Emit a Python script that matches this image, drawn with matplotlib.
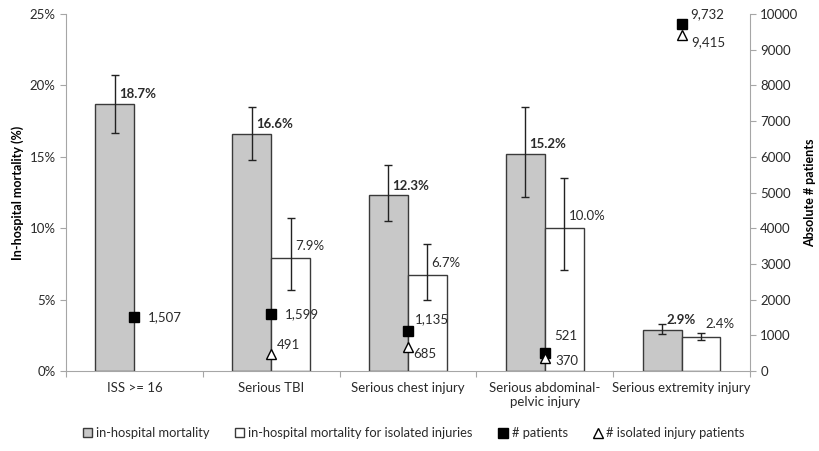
import matplotlib.pyplot as plt
import numpy as np

plt.rcParams['font.family'] = ['Lato', 'DejaVu Sans']
plt.rcParams['font.size'] = 9.5
plt.rcParams['text.color'] = '#2a2a2a'
plt.rcParams['xtick.color'] = '#2a2a2a'
plt.rcParams['ytick.color'] = '#2a2a2a'

categories = ['ISS >= 16', 'Serious TBI', 'Serious chest injury',
              'Serious abdominal-\npelvic injury', 'Serious extremity injury']
mortality = [18.7, 16.6, 12.3, 15.2, 2.9]
mort_lo = [2.0, 1.8, 1.8, 3.0, 0.3]
mort_hi = [2.0, 1.9, 2.1, 3.3, 0.4]
iso_mortality = [np.nan, 7.9, 6.7, 10.0, 2.4]
iso_lo = [0, 2.2, 1.7, 2.9, 0.25]
iso_hi = [0, 2.8, 2.2, 3.5, 0.3]
patients = [1507, 1599, 1135, 521, 9732]
iso_patients = [np.nan, 491, 685, 370, 9415]

# label offsets in points (x, y) for the count markers
pat_off = [(10, 0), (10, 0), (5, 8), (7, 12), (6, 7)]
iso_off = [(0, 0), (4, 6), (4, -5), (8, -2), (7, -5)]

edge = '#3a3a3a'
axis_col = '#a6a6a6'

fig = plt.figure(figsize=(8.2, 4.51), dpi=100)
ax = fig.add_axes([0.0805, 0.177, 0.834, 0.792])
x = np.arange(len(categories))
w = 0.285

ax.bar(x - w / 2, mortality, w, color='#c8c8c8', edgecolor=edge, linewidth=1,
       yerr=[mort_lo, mort_hi], error_kw=dict(ecolor='#222222', elinewidth=1, capsize=3, capthick=1),
       label='in-hospital mortality')
iso_mask = ~np.isnan(iso_mortality)
ax.bar(x[iso_mask] + w / 2, np.array(iso_mortality)[iso_mask], w, color='white',
       edgecolor=edge, linewidth=1,
       yerr=[np.array(iso_lo)[iso_mask], np.array(iso_hi)[iso_mask]],
       error_kw=dict(ecolor='#222222', elinewidth=1, capsize=3, capthick=1),
       label='in-hospital mortality for isolated injuries')

for i, v in enumerate(mortality):
    ax.annotate(f'{v:.1f}%', (x[i] - w / 2, v), xytext=(3, 7), textcoords='offset points',
                ha='left', va='center', fontweight='bold')
for i, v in enumerate(iso_mortality):
    if not np.isnan(v):
        ax.annotate(f'{v:.1f}%', (x[i] + w / 2, v), xytext=(3, 9), textcoords='offset points',
                    ha='left', va='center')

ax.set_xlim(-0.5, len(categories) - 0.5)
ax.set_ylim(0, 25)
ax.set_yticks(np.arange(0, 26, 5))
ax.set_yticklabels([f'{t}%' for t in range(0, 26, 5)])
ax.set_ylabel('In-hospital mortality (%)', fontweight='bold', fontsize=9)
ax.set_xticks(np.arange(-0.5, len(categories), 1))
ax.set_xticklabels([])
ax.set_xticks(x, minor=True)
ax.set_xticklabels(categories, minor=True)
ax.tick_params(axis='x', which='minor', length=0, pad=8)
ax.tick_params(axis='x', which='major', length=4, color=axis_col, direction='out')
ax.tick_params(axis='y', length=4, color=axis_col)
for s in ['top', 'right']:
    ax.spines[s].set_visible(False)
for s in ['left', 'bottom']:
    ax.spines[s].set_color(axis_col)

ax2 = ax.twinx()
ax2.set_ylim(0, 10000)
ax2.set_yticks(np.arange(0, 10001, 1000))
ax2.plot(x, patients, 's', color='black', markersize=7, linestyle='none', label='# patients')
ax2.plot(x, iso_patients, '^', color='white', markeredgecolor='black', markersize=6.5,
         linestyle='none', label='# isolated injury patients')
for i, v in enumerate(patients):
    ax2.annotate(f'{v:,}', (x[i], v), xytext=pat_off[i], textcoords='offset points',
                 ha='left', va='center')
for i, v in enumerate(iso_patients):
    if not np.isnan(v):
        ax2.annotate(f'{int(v):,}', (x[i], v), xytext=iso_off[i], textcoords='offset points',
                     ha='left', va='center')
ax2.set_ylabel('Absolute # patients', fontweight='bold', fontsize=9)
ax2.tick_params(axis='y', length=4, color=axis_col)
for s in ['top', 'left', 'bottom']:
    ax2.spines[s].set_visible(False)
ax2.spines['right'].set_color(axis_col)

h1, l1 = ax.get_legend_handles_labels()
h2, l2 = ax2.get_legend_handles_labels()
fig.legend(h1 + h2, l1 + l2, loc='lower center', bbox_to_anchor=(0.505, 0.0), ncol=4,
           frameon=False, handlelength=0.7, handleheight=0.7, handletextpad=0.3,
           columnspacing=2.0, fontsize=9.3)

fig.savefig('out.png', dpi=100)
